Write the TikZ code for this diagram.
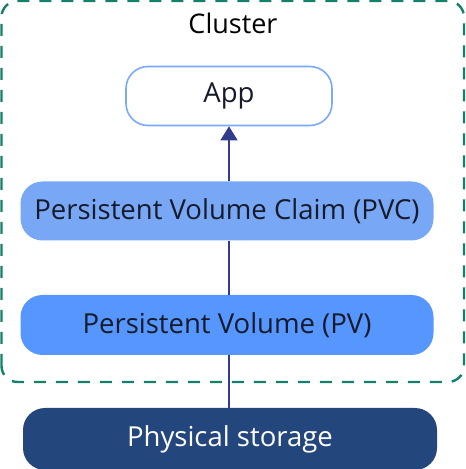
\documentclass[tikz,border=0pt]{standalone}
\usepackage{fontspec}
\setmainfont{Open Sans}
\usetikzlibrary{arrows.meta}

\definecolor{clustergreen}{HTML}{14806A}
\definecolor{appline}{HTML}{78A9FF}
\definecolor{pvcfill}{HTML}{78A8F5}
\definecolor{pvfill}{HTML}{5596FF}
\definecolor{storagefill}{HTML}{23467D}
\definecolor{linkblue}{HTML}{323C8C}
\definecolor{textdark}{HTML}{161A2A}

\begin{document}
\begin{tikzpicture}[x=1pt,y=1pt,
    layer/.style={rounded corners=22pt,minimum width=413pt,minimum height=59pt,
      inner sep=0pt,font=\fontsize{27.5}{31}\selectfont,text=textdark},
    link/.style={draw=linkblue,line width=1.3pt}]
      % \draw[help lines](0,0) grid[step=50] (466,469);
      \useasboundingbox (0,0) rectangle (466,469);

      \draw[clustergreen,line width=2.4pt,dash pattern=on 12pt off 10pt,rounded corners=16pt]
        (1.5,87) rectangle (464,468);
      \draw (233,446) node (cluster) {\fontsize{27}{31}\selectfont Cluster};

      \draw (229,373) node[layer,draw=appline,line width=1.6pt,fill=white,minimum width=206pt,minimum height=59pt] (app) {App};
      \draw (227,258) node[layer,fill=pvcfill] (pvc) {Persistent Volume Claim (PVC)};
      \draw (227,144) node[layer,fill=pvfill,minimum height=60pt] (pv) {Persistent Volume (PV)};
      \draw (230,30) node[layer,fill=storagefill,text=white,minimum width=414pt,minimum height=62pt] (storage) {Physical storage};

      \draw [link,-{Triangle[length=14pt,width=17pt]}] (pvc.north -| app) -- (app);
      \draw [link] (pv.north -| app) -- (pvc.south -| app);
      \draw [link] (storage.north -| app) -- (pv.south -| app);
    \end{tikzpicture}
\end{document}
